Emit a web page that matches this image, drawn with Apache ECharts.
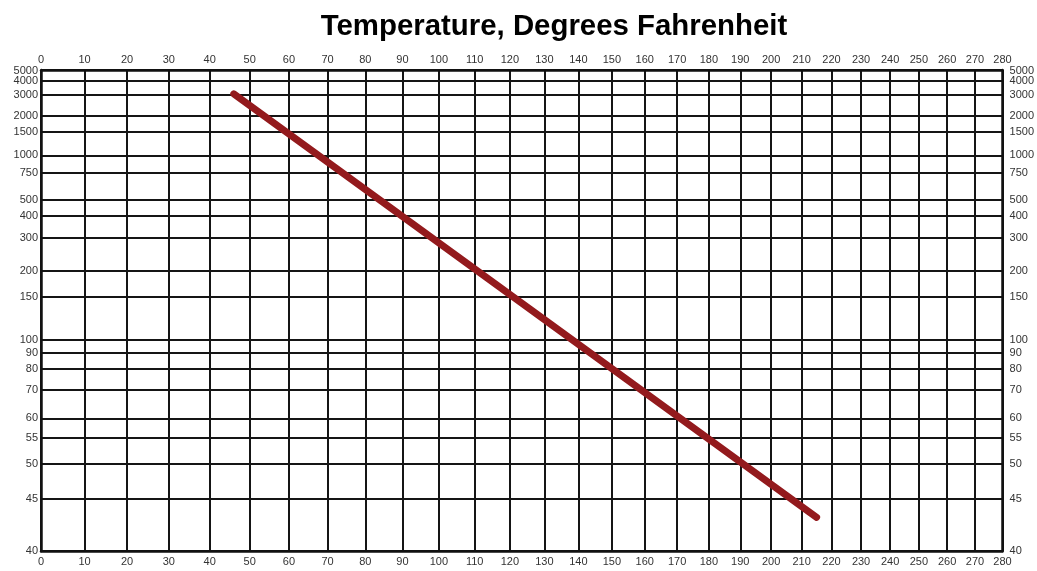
<!DOCTYPE html>
<html>
<head>
<meta charset="utf-8">
<title>Temperature, Degrees Fahrenheit</title>
<script src="https://cdn.jsdelivr.net/npm/echarts@6/dist/echarts.min.js"></script>
<style>
    html, body { margin: 0; padding: 0; background: #fff; }
    #chart { width: 1037px; height: 571px; }
</style>
</head>
<body>
<div id="chart"></div>
<script>
// 刻度
var tempTicks = [0, 10, 20, 30, 40, 50, 60, 70, 80, 90, 100, 110, 120, 130, 140,
    150, 160, 170, 180, 190, 200, 210, 220, 230, 240, 250, 260, 270, 280];
var susTicks = [40, 45, 50, 55, 60, 70, 80, 90, 100, 150, 200, 300, 400, 500, 750,
    1000, 1500, 2000, 3000, 4000, 5000];

// 直线两端
var lineTemps = [46, 215];
var lineSus = [3050, 43];

// 温度轴：log(绝对温度, Rankine)
function tx(f) {
    return Math.log10(f + 459.67);
}

// SUS -> cSt (ASTM D2161)，二分求反
function cstToSus(v) {
    return 4.6324 * v + (1 + 0.03264 * v) /
        ((3930.2 + 262.7 * v + 23.97 * v * v + 1.646 * v * v * v) * 1e-5);
}
function susToCst(s) {
    var lo = 1, hi = 5000;
    for (var i = 0; i < 80; i++) {
        var mid = (lo + hi) / 2;
        if (cstToSus(mid) < s) lo = mid; else hi = mid;
    }
    return (lo + hi) / 2;
}
// 粘度轴：log log (cSt + 0.7)
function vy(s) {
    return Math.log10(Math.log10(susToCst(s) + 0.7));
}

var xVals = tempTicks.map(tx);
var yVals = susTicks.map(vy);
var susTop = susTicks[susTicks.length - 1];
// 顶部 5000 单独用 markLine 标注，避免和 4000 互相遮挡被隐藏
var yLabelVals = yVals.slice(0, yVals.length - 1);

function xLabel(v) {
    return String(Math.round(Math.pow(10, v) - 459.67));
}
function yLabel(v) {
    var best = 0;
    for (var i = 1; i < yVals.length; i++) {
        if (Math.abs(yVals[i] - v) < Math.abs(yVals[best] - v)) best = i;
    }
    return String(susTicks[best]);
}

var lineData = lineTemps.map(function (t, i) {
    return [tx(t), vy(lineSus[i])];
});

var myChart = echarts.init(document.getElementById('chart'));

var gridLine = { show: true, lineStyle: { color: '#151515', width: 2 } };
var border = { show: true, onZero: false, lineStyle: { color: '#111', width: 2.5 } };
var labelFont = { color: '#333', fontSize: 11, fontFamily: 'Liberation Sans, Arial, sans-serif' };

function xAxisCfg(pos) {
    return {
        type: 'value',
        position: pos,
        min: tx(0),
        max: tx(280),
        axisLine: border,
        axisTick: { show: false, customValues: xVals },
        axisLabel: Object.assign({
            customValues: xVals,
            formatter: xLabel,
            margin: 5,
            showMinLabel: true,
            showMaxLabel: true
        }, labelFont),
        splitLine: gridLine
    };
}
function yAxisCfg(pos) {
    return {
        type: 'value',
        position: pos,
        min: vy(40),
        max: vy(5000),
        axisLine: border,
        axisTick: { show: false, customValues: yVals },
        axisLabel: Object.assign({
            customValues: yLabelVals,
            formatter: yLabel,
            margin: pos === 'left' ? 3 : 7,
            showMinLabel: true
        }, labelFont),
        splitLine: gridLine
    };
}

var topLabel = Object.assign({ show: true, formatter: String(susTop) }, labelFont);

var option = {
    animation: false,
    backgroundColor: '#fff',
    title: {
        text: 'Temperature, Degrees Fahrenheit',
        left: 549,
        textAlign: 'center',
        top: 7,
        textStyle: {
            fontSize: 29.4,
            fontWeight: 'bold',
            color: '#000',
            fontFamily: 'Liberation Sans, Arial, sans-serif'
        }
    },
    grid: { left: 41, right: 32, top: 70, bottom: 20 },
    xAxis: [xAxisCfg('bottom'), xAxisCfg('top')],
    yAxis: [yAxisCfg('left'), yAxisCfg('right')],
    series: [{
        type: 'line',
        data: lineData,
        symbol: 'none',
        z: 5,
        lineStyle: { color: '#931a1d', width: 7, cap: 'round' },
        markLine: {
            silent: true,
            symbol: 'none',
            animation: false,
            lineStyle: { color: 'rgba(0,0,0,0)', width: 1, type: 'solid' },
            data: [
                { yAxis: vy(susTop), label: Object.assign({ position: 'start', distance: 3 }, topLabel) },
                { yAxis: vy(susTop), label: Object.assign({ position: 'end', distance: 7 }, topLabel) }
            ]
        }
    }]
};

myChart.setOption(option);
</script>
</body>
</html>
